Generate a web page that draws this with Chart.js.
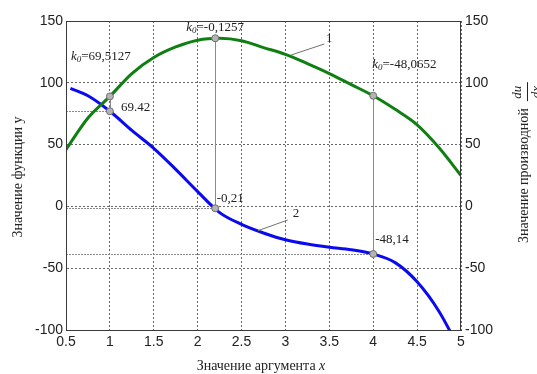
<!DOCTYPE html>
<html>
<head>
<meta charset="utf-8">
<script src="https://cdn.jsdelivr.net/npm/chart.js@4.4.1/dist/chart.umd.min.js"></script>
<style>
  html, body { margin: 0; padding: 0; background: #fff; }
</style>
</head>
<body>
<canvas id="myChart" width="537" height="374"></canvas>
<script>
// кривая 1 - функция y(x)
const funcX = [0.5, 0.75, 1, 1.25, 1.5, 1.75, 2, 2.25, 2.5, 2.75, 3, 3.25, 3.5, 3.75, 4, 4.25, 4.5, 4.75, 5];
const funcY = [46, 71.5, 89, 107.5, 120.5, 129, 134.5, 136, 134, 128.5, 123, 115.5, 107.5, 98.5, 89.5, 78.5, 66, 47.5, 25];
// кривая 2 - производная du/dx
const derivX = [0.55, 0.75, 1, 1.25, 1.5, 1.75, 2, 2.25, 2.5, 2.75, 3, 3.25, 3.5, 3.75, 4, 4.25, 4.5, 4.75, 5];
const derivY = [95.5, 89.5, 77, 61.5, 47, 30, 12, -5, -14.5, -21.5, -27, -30.5, -33, -35, -38.5, -45.5, -61, -85, -118];
// отмеченные точки
const markX = [1, 2.2, 4];
const markFunc = [89, 136, 89.5];
const markDeriv = [77, -1.5, -38.5];
const funcLabels = ["69,5127", "-0,1257", "-48,0652"];
const derivLabels = ["69.42", "-0,21", "-48,14"];
const xTicks = [0.5, 1, 1.5, 2, 2.5, 3, 3.5, 4, 4.5, 5];
const yTicks = [-100, -50, 0, 50, 100, 150];

const serif = "'Liberation Serif', 'Times New Roman', serif";
const sans = "'Liberation Sans', Arial, sans-serif";

// смещения подписей от точек, px
const funcLabelOffsets = [[-39, -40], [-29, -11], [-1, -31.5]];
const derivLabelOffsets = [[11, -4], [1.5, -10], [2, -14.5]];

function drawK0(ctx, x, y, value) {
  ctx.textAlign = "left";
  ctx.textBaseline = "middle";
  ctx.font = "italic 13px " + serif;
  ctx.fillText("k", x, y);
  let w = ctx.measureText("k").width;
  ctx.font = "italic 9px " + serif;
  ctx.fillText("0", x + w, y + 3);
  w += ctx.measureText("0").width;
  ctx.font = "13px " + serif;
  ctx.fillText("=" + value, x + w, y);
}

const decor = {
  id: "decor",
  beforeDatasetsDraw(chart) {
    const { ctx, scales: { x, y } } = chart;
    ctx.save();
    ctx.strokeStyle = "#8a8a8a";
    ctx.lineWidth = 1;
    // вертикальные линии между точками
    markX.forEach((mx, i) => {
      const px = Math.round(x.getPixelForValue(mx)) + 0.5;
      ctx.beginPath();
      ctx.moveTo(px, y.getPixelForValue(markFunc[i]));
      ctx.lineTo(px, y.getPixelForValue(markDeriv[i]));
      ctx.stroke();
    });
    // горизонтальные линии к оси
    ctx.setLineDash([2, 1]);
    markX.forEach((mx, i) => {
      const py = Math.round(y.getPixelForValue(markDeriv[i])) + 0.5;
      ctx.beginPath();
      ctx.moveTo(x.left, py);
      ctx.lineTo(x.getPixelForValue(mx), py);
      ctx.stroke();
    });
    ctx.restore();
  },
  afterDatasetsDraw(chart) {
    const { ctx, chartArea: a, scales: { x, y } } = chart;
    ctx.save();
    // рамка
    ctx.strokeStyle = "#3a3a3a";
    ctx.lineWidth = 1;
    ctx.strokeRect(a.left + 0.5, a.top + 0.5, a.right - a.left - 1, a.bottom - a.top);

    // выноски 1 и 2
    ctx.strokeStyle = "#707070";
    ctx.beginPath();
    ctx.moveTo(x.getPixelForValue(3.065), y.getPixelForValue(122.5));
    ctx.lineTo(x.getPixelForValue(3.443), y.getPixelForValue(131.4));
    ctx.moveTo(x.getPixelForValue(2.685), y.getPixelForValue(-19.7));
    ctx.lineTo(x.getPixelForValue(3.026), y.getPixelForValue(-11));
    ctx.stroke();

    ctx.fillStyle = "#222";
    ctx.font = "13px " + serif;
    ctx.textAlign = "center";
    ctx.textBaseline = "middle";
    ctx.fillText("1", x.getPixelForValue(3.5), y.getPixelForValue(135.4));
    ctx.fillText("2", x.getPixelForValue(3.12), y.getPixelForValue(-6.2));

    // подписи точек
    markX.forEach((mx, i) => {
      const px = x.getPixelForValue(mx);
      const [fx, fy] = funcLabelOffsets[i];
      drawK0(ctx, px + fx, y.getPixelForValue(markFunc[i]) + fy, funcLabels[i]);
      const [dx, dy] = derivLabelOffsets[i];
      ctx.font = "13px " + serif;
      ctx.textAlign = "left";
      ctx.fillText(derivLabels[i], px + dx, y.getPixelForValue(markDeriv[i]) + dy);
    });

    // подпись оси X
    ctx.font = "14px " + serif;
    ctx.textBaseline = "middle";
    ctx.textAlign = "left";
    const t1 = "Значение аргумента ";
    const w1 = ctx.measureText(t1).width;
    ctx.font = "italic 14px " + serif;
    const w2 = ctx.measureText("x").width;
    const sx = 261 - (w1 + w2) / 2;
    ctx.font = "14px " + serif;
    ctx.fillText(t1, sx, 366);
    ctx.font = "italic 14px " + serif;
    ctx.fillText("x", sx + w1, 366);

    // левая ось
    ctx.save();
    ctx.translate(18, 177);
    ctx.rotate(-Math.PI / 2);
    ctx.font = "14px " + serif;
    ctx.textAlign = "center";
    ctx.fillText("Значение функции y", 0, 0);
    ctx.restore();

    // правая ось
    ctx.save();
    ctx.translate(524, 243);
    ctx.rotate(-Math.PI / 2);
    ctx.font = "14px " + serif;
    ctx.textAlign = "left";
    ctx.fillText("Значение производной", 0, 0);
    const wm = ctx.measureText("Значение производной").width;
    const fx0 = wm + 7;
    ctx.font = "italic 13px " + serif;
    ctx.textAlign = "center";
    ctx.fillText("du", fx0 + 9, -6);
    ctx.fillText("dx", fx0 + 9, 13);
    ctx.strokeStyle = "#222";
    ctx.beginPath();
    ctx.moveTo(fx0, 3.5);
    ctx.lineTo(fx0 + 19, 3.5);
    ctx.stroke();
    ctx.restore();

    ctx.restore();
  }
};

const ctx = document.getElementById("myChart").getContext("2d");

new Chart(ctx, {
  type: "line",
  data: {
    datasets: [
      {
        label: "points",
        data: markX.map((v, i) => ({ x: v, y: markFunc[i] })).concat(markX.map((v, i) => ({ x: v, y: markDeriv[i] }))),
        showLine: false,
        pointRadius: 3.5,
        pointBackgroundColor: "#b4b4b4",
        pointBorderColor: "#6e6e6e",
        pointBorderWidth: 1,
        order: 0
      },
      {
        label: "1",
        data: funcX.map((v, i) => ({ x: v, y: funcY[i] })),
        borderColor: "#0f7f12",
        borderWidth: 3,
        pointRadius: 0,
        cubicInterpolationMode: "monotone",
        fill: false,
        order: 1
      },
      {
        label: "2",
        data: derivX.map((v, i) => ({ x: v, y: derivY[i] })),
        borderColor: "#0a0af0",
        borderWidth: 3,
        pointRadius: 0,
        cubicInterpolationMode: "monotone",
        fill: false,
        order: 2
      }
    ]
  },
  options: {
    responsive: false,
    animation: false,
    devicePixelRatio: 1,
    layout: { padding: { top: 21, left: 0, right: 0, bottom: 0 } },
    plugins: { legend: { display: false }, tooltip: { enabled: false } },
    scales: {
      x: {
        type: "linear",
        min: 0.5,
        max: 5,
        afterBuildTicks: s => { s.ticks = xTicks.map(v => ({ value: v })); },
        afterFit: s => { s.height = 44; },
        ticks: { font: { family: sans, size: 14 }, color: "#222", padding: 4, maxRotation: 0, callback: v => String(v) },
        grid: { color: "#666", drawTicks: false },
        border: { dash: [2, 2], color: "#3a3a3a" }
      },
      y: {
        position: "left",
        min: -100,
        max: 150,
        afterBuildTicks: s => { s.ticks = yTicks.map(v => ({ value: v })); },
        afterFit: s => { s.width = 66; },
        ticks: { font: { family: sans, size: 14 }, color: "#222", padding: 3, callback: v => String(v) },
        grid: { color: "#666", drawTicks: false },
        border: { dash: [2, 2], color: "#3a3a3a" }
      },
      y2: {
        position: "right",
        min: -100,
        max: 150,
        afterBuildTicks: s => { s.ticks = yTicks.map(v => ({ value: v })); },
        afterFit: s => { s.width = 76; },
        ticks: { font: { family: sans, size: 14 }, color: "#222", padding: 4, callback: v => String(v) },
        grid: { drawOnChartArea: false, drawTicks: false },
        border: { display: false }
      }
    }
  },
  plugins: [decor]
});
</script>
</body>
</html>
